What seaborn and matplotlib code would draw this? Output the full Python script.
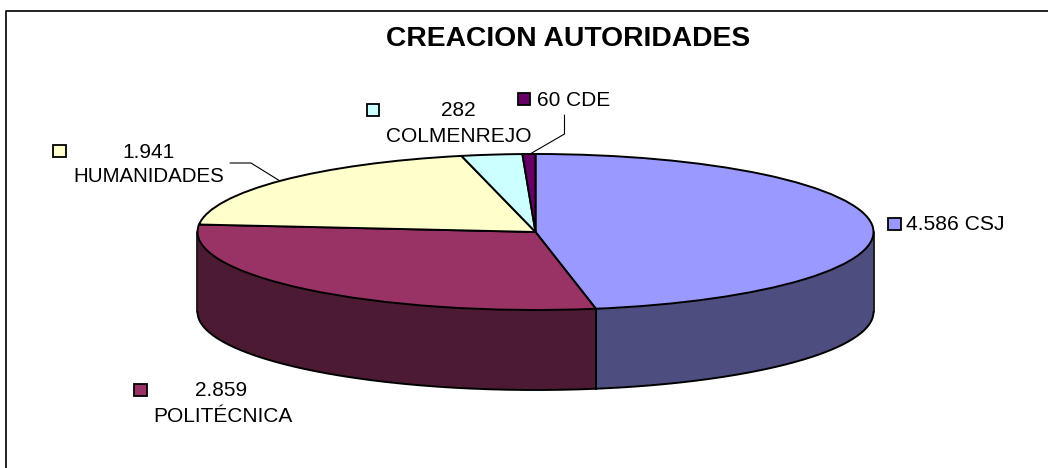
import numpy as np
import matplotlib
matplotlib.use("Agg")
import matplotlib.pyplot as plt
from matplotlib.patches import Rectangle
import seaborn as sns

categories = ["CSJ", "POLITÉCNICA", "HUMANIDADES", "COLMENREJO", "CDE"]
values = [4586, 2859, 1941, 282, 60]
value_labels = ["4.586", "2.859", "1.941", "282", "60"]
top_colors = ["#9999FF", "#993366", "#FFFFCC", "#CCFFFF", "#660066"]
side_colors = ["#4D4D80", "#4D1A33"]
title = "CREACION AUTORIDADES"

sns.set_theme(style="white")
plt.rcParams["font.family"] = ["Liberation Sans", "DejaVu Sans"]

W, H = 1048, 468
fig = plt.figure(figsize=(W / 100, H / 100), dpi=100, facecolor="white")

# full-figure pixel axes for frame, title and labels
bg = fig.add_axes([0, 0, 1, 1])
bg.set_xlim(0, W)
bg.set_ylim(H, 0)
bg.axis("off")
bg.plot([5.8, 5.8, 1048], [468, 10.5, 10.5], color="#111111", lw=1.3)
bg.text(568, 38.5, title, ha="center", va="center", fontsize=20.3, fontweight="bold", color="black")

# pie axes: unit circle squashed into the tilted ellipse
cx, cy, rx, ry, depth = 535.5, 232, 338, 78, 80
ax = fig.add_axes([(cx - rx) / W, 1 - (cy + ry) / H, 2 * rx / W, 2 * ry / H], zorder=2)
ax.patch.set_alpha(0)
wedges, _ = ax.pie(values, colors=top_colors, startangle=90, counterclock=False, radius=1,
                   wedgeprops=dict(edgecolor="black", linewidth=1.4))
for w in wedges:
    w.set_clip_on(False)
    w.set_zorder(3)
ax.set_aspect("auto")
ax.set_xlim(-1, 1)
ax.set_ylim(-1, 1)

# extruded rim of the front half, from the same values
d = depth / ry
ends = np.cumsum(values) / np.sum(values) * 360
starts = np.r_[0, ends[:-1]]
for s, e, c in zip(starts[:2], ends[:2], side_colors):
    a = np.radians(np.linspace(max(s, 90), min(e, 270), 200))
    x, y = np.sin(a), np.cos(a)
    ax.fill_between(x, y, y - d, color=c, ec="none", clip_on=False, zorder=1)
    ax.plot(x, y - d, color="black", lw=1.4, clip_on=False, zorder=2)
    for xe, ye in ((x[0], y[0]), (x[-1], y[-1])):
        ax.plot([xe, xe], [ye, ye - d], color="black", lw=1.2, clip_on=False, zorder=2)

# labels: legend key, text lines
fs = 15.0
def key(x, y, color):
    bg.add_patch(Rectangle((x, y), 12.5, 11.5, fc=color, ec="black", lw=1.3))

key(888, 218, top_colors[0])
bg.text(906.5, 224.5, f"{value_labels[0]} {categories[0]}", fontsize=fs + 0.2, va="center", ha="left", color="black")

key(134, 384, top_colors[1])
bg.text(221.5, 391, value_labels[1], fontsize=fs, va="center", ha="center", color="black")
bg.text(223, 416, categories[1], fontsize=fs, va="center", ha="center", color="black")

key(53, 145, top_colors[2])
bg.text(148, 152, value_labels[2], fontsize=fs, va="center", ha="center", color="black")
bg.text(148.5, 177, categories[2], fontsize=fs - 0.2, va="center", ha="center", color="black")

key(366.5, 104, top_colors[3])
bg.text(458, 111, value_labels[3], fontsize=fs, va="center", ha="center", color="black")
bg.text(458.5, 136, categories[3], fontsize=fs, va="center", ha="center", color="black")

key(517.5, 93, top_colors[4])
bg.text(537, 100, f"{value_labels[4]} {categories[4]}", fontsize=fs, va="center", ha="left", color="black")

# leader lines
bg.plot([230, 251, 280], [163, 163, 181], color="black", lw=0.8, zorder=1)
bg.plot([564.5, 564.5, 530], [115, 134, 154], color="black", lw=0.8, zorder=1)

fig.savefig("out.png", dpi=100)
